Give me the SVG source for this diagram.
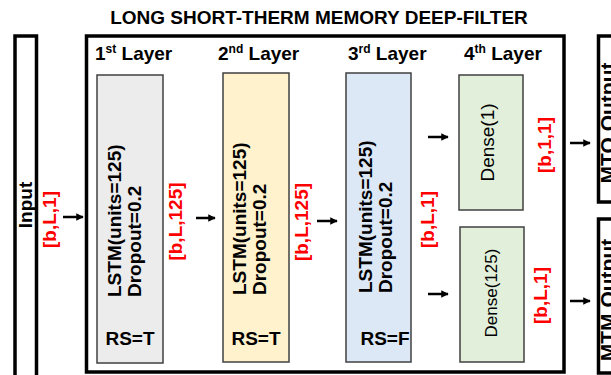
<svg xmlns="http://www.w3.org/2000/svg" width="611" height="375" viewBox="0 0 611 375">
<style>
text{font-family:"Liberation Sans",Arial,sans-serif;}
.b{font-weight:bold;font-size:19px;fill:#000;}
.r{font-weight:bold;font-size:19px;fill:#ff0000;}
.d{font-size:19px;fill:#000;}
.sup{font-size:12px;}
.frame{fill:none;stroke:#000;stroke-width:3.5;}
.lyr{stroke:#404040;stroke-width:1.5;}
.arr{stroke:#000;stroke-width:2.5;fill:none;marker-end:url(#ah);}
</style>
<defs>
<marker id="ah" viewBox="0 0 10 10" refX="9" refY="5" markerWidth="3" markerHeight="3.2" orient="auto" markerUnits="strokeWidth">
<path d="M0,0 L10,5 L0,10 z" fill="#000"/>
</marker>
</defs>
<rect width="611" height="375" fill="#fff"/>
<text id="title" class="b" x="319" y="24" text-anchor="middle">LONG SHORT-THERM MEMORY DEEP-FILTER</text>

<g id="input">
<rect class="frame" x="15" y="36" width="21.5" height="345"/>
<text class="b" transform="translate(32,205) rotate(-90)" text-anchor="middle">Input</text>
<text class="r" transform="translate(56,219.5) rotate(-90)" text-anchor="middle">[b,L,1]</text>
</g>

<g id="filter">
<rect class="frame" x="86.5" y="36" width="477.5" height="336"/>
<text class="b" x="95" y="60">1<tspan class="sup" dy="-7">st</tspan><tspan dy="7"> Layer</tspan></text>
<text class="b" x="218" y="60">2<tspan class="sup" dy="-7">nd</tspan><tspan dy="7"> Layer</tspan></text>
<text class="b" x="348" y="60">3<tspan class="sup" dy="-7">rd</tspan><tspan dy="7"> Layer</tspan></text>
<text class="b" x="464" y="60">4<tspan class="sup" dy="-7">th</tspan><tspan dy="7"> Layer</tspan></text>
</g>

<g id="lstm1">
<rect class="lyr" x="97" y="75" width="66" height="288" fill="#ececec"/>
<text class="b" transform="translate(121,297) rotate(-90)">LSTM(units=125)</text>
<text class="b" transform="translate(141,297) rotate(-90)">Dropout=0.2</text>
<text class="b" x="130" y="345" text-anchor="middle">RS=T</text>
<text class="r" transform="translate(182,221.5) rotate(-90)" text-anchor="middle">[b,L,125]</text>
</g>

<g id="lstm2">
<rect class="lyr" x="223" y="73" width="66" height="289" fill="#fff2cc"/>
<text class="b" transform="translate(246,295) rotate(-90)">LSTM(units=125)</text>
<text class="b" transform="translate(266,295) rotate(-90)">Dropout=0.2</text>
<text class="b" x="256" y="345" text-anchor="middle">RS=T</text>
<text class="r" transform="translate(308,222) rotate(-90)" text-anchor="middle">[b,L,125]</text>
</g>

<g id="lstm3">
<rect class="lyr" x="346" y="73" width="65" height="289" fill="#dce8f6"/>
<text class="b" transform="translate(372,293) rotate(-90)">LSTM(units=125)</text>
<text class="b" transform="translate(392,293) rotate(-90)">Dropout=0.2</text>
<text class="b" x="385" y="345" text-anchor="middle">RS=F</text>
<text class="r" transform="translate(434,219.5) rotate(-90)" text-anchor="middle">[b,L,1]</text>
</g>

<g id="dense1">
<rect class="lyr" x="459" y="75" width="64" height="135" fill="#e2efda"/>
<text class="d" transform="translate(494,142.5) rotate(-90)" text-anchor="middle">Dense(1)</text>
<text class="r" transform="translate(550.5,145) rotate(-90)" text-anchor="middle">[b,1,1]</text>
</g>

<g id="dense125">
<rect class="lyr" x="460" y="227" width="64" height="135" fill="#e2efda"/>
<text class="d" style="font-size:17px" transform="translate(497,293) rotate(-90)" text-anchor="middle">Dense(125)</text>
<text class="r" transform="translate(547,295.5) rotate(-90)" text-anchor="middle">[b,L,1]</text>
</g>

<g id="mto">
<rect class="frame" x="598.5" y="36" width="30" height="166"/>
<text class="b" style="font-size:21px" transform="translate(615,123) rotate(-90)" text-anchor="middle">MTO Output</text>
</g>

<g id="mtm">
<rect class="frame" x="598.5" y="219" width="30" height="154"/>
<text class="b" style="font-size:21px" transform="translate(615,300) rotate(-90)" text-anchor="middle">MTM Output</text>
</g>

<g id="connectors">
<line class="arr" x1="63" y1="217" x2="83" y2="217"/>
<line class="arr" x1="196" y1="218" x2="215" y2="218"/>
<line class="arr" x1="317" y1="221" x2="337" y2="221"/>
<line class="arr" x1="428" y1="137" x2="448" y2="137"/>
<line class="arr" x1="428" y1="294" x2="448" y2="294"/>
<line class="arr" x1="570" y1="143" x2="590" y2="143"/>
<line class="arr" x1="570" y1="301" x2="590" y2="301"/>
</g>
</svg>
